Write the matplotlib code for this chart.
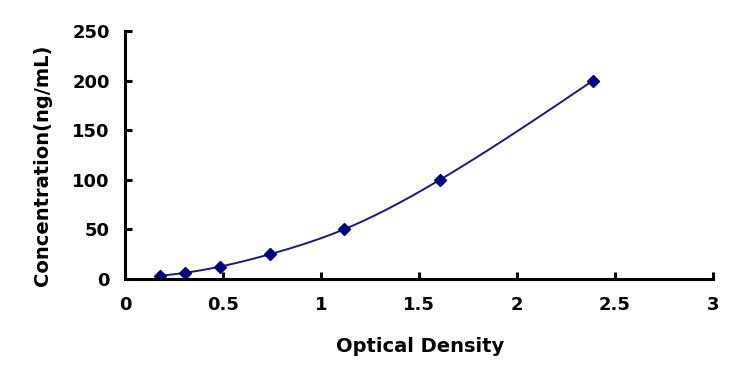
import numpy as np
import matplotlib
matplotlib.use("Agg")
import matplotlib.pyplot as plt

od = [0.179, 0.306, 0.485, 0.740, 1.117, 1.607, 2.388]
conc = [3.12, 6.25, 12.5, 25, 50, 100, 200]
xticks = [0, 0.5, 1, 1.5, 2, 2.5, 3]
xticklabels = ["0", "0.5", "1", "1.5", "2", "2.5", "3"]
yticks = [0, 50, 100, 150, 200, 250]


def natural_spline(x, y, xs):
    x = np.asarray(x, float); y = np.asarray(y, float)
    n = len(x)
    h = np.diff(x)
    A = np.zeros((n, n)); b = np.zeros(n)
    A[0, 0] = A[-1, -1] = 1
    for i in range(1, n - 1):
        A[i, i - 1] = h[i - 1]
        A[i, i] = 2 * (h[i - 1] + h[i])
        A[i, i + 1] = h[i]
        b[i] = 3 * ((y[i + 1] - y[i]) / h[i] - (y[i] - y[i - 1]) / h[i - 1])
    c = np.linalg.solve(A, b)
    out = np.empty_like(xs)
    for k, xv in enumerate(xs):
        i = min(max(np.searchsorted(x, xv) - 1, 0), n - 2)
        bi = (y[i + 1] - y[i]) / h[i] - h[i] * (2 * c[i] + c[i + 1]) / 3
        di = (c[i + 1] - c[i]) / (3 * h[i])
        t = xv - x[i]
        out[k] = y[i] + bi * t + c[i] * t ** 2 + di * t ** 3
    return out


plt.rcParams['font.family'] = ['DejaVu Sans']
fig = plt.figure(figsize=(7.52, 3.81), dpi=100)
ax = fig.add_axes([0.1662, 0.2677, 0.948 - 0.1662, 0.9186 - 0.2677])

xs = np.linspace(od[0], od[-1], 300)
ax.plot(xs, natural_spline(od, conc, xs), color='#1a1a80', lw=1.4)
ax.plot(od, conc, linestyle='none', marker='D', markersize=6.5, color='#000080')

ax.set_xlim(0, 3)
ax.set_ylim(0, 250)
ax.set_xticks(xticks)
ax.set_xticklabels(xticklabels)
ax.set_yticks(yticks)
for s in ['top', 'right']:
    ax.spines[s].set_visible(False)
for s in ['left', 'bottom']:
    ax.spines[s].set_linewidth(2.2)
ax.tick_params(direction='in', length=5, width=2.2, labelsize=13)
ax.tick_params(axis='x', pad=12)
ax.tick_params(axis='y', pad=11)
for lab in ax.get_xticklabels() + ax.get_yticklabels():
    lab.set_fontweight('bold')
ax.set_xlabel('Optical Density', fontsize=14, fontweight='bold', va='center')
ax.set_ylabel('Concentration(ng/mL)', fontsize=14, fontweight='bold', va='center')
ax.xaxis.set_label_coords(0.502, -0.274)
ax.yaxis.set_label_coords(-0.141, 0.46)

fig.savefig('out.png', dpi=100)
